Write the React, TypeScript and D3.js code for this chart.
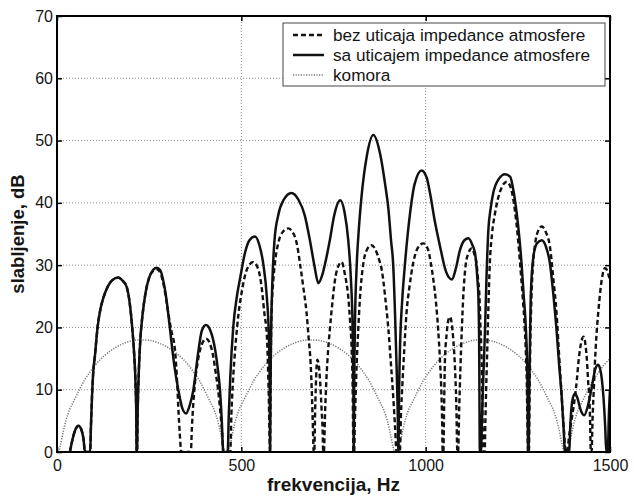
import * as d3 from 'd3';
import { useRef, useEffect } from 'react';

// frequency (Hz), attenuation (dB) pairs
const saUticajem: [number, number][] = [
  [35, 0], [42, 2], [50, 3.6], [58, 4.2], [66, 3.6], [72, 2], [76, 0],
  [90, 0], [92, 4], [95, 9], [98, 12.5], [103, 15.5], [110, 20], [118, 23], [126, 24.8], [138, 26.6], [150, 27.6], [166, 28], [178, 27.5], [189, 26.5], [197, 24], [204, 20], [209, 16], [213, 11], [215, 6], [216, 0],
  [217, 0], [219, 7], [222, 13], [226, 18], [232, 22], [240, 25.5], [250, 28], [260, 29.2], [270, 29.6], [280, 29.2], [290, 27], [298, 24], [306, 20], [318, 14], [329, 10], [340, 7], [350, 6.2], [360, 7.5], [370, 10], [383, 16], [393, 19.5], [404, 20.4], [416, 19.5], [429, 16.4], [437, 13], [442, 10], [447, 5], [451, 0],
  [463, 0], [466, 6], [470, 12], [478, 20], [488, 25], [497, 28], [510, 32], [522, 34], [537, 34.6], [550, 33], [560, 30], [569, 25], [575, 18], [577, 10], [578, 0],
  [579, 10], [581, 20], [584, 27], [590, 34], [600, 38], [615, 40.5], [636, 41.6], [655, 40.5], [672, 38], [686, 34], [698, 30], [709, 27.1], [720, 28.5], [730, 31], [740, 34], [752, 38], [768, 40.4], [780, 38.5], [790, 34], [797, 28], [802, 19.6], [804, 10], [805, 0],
  [806, 10], [808, 20], [813, 30], [819, 36], [826, 41], [840, 47.4], [858, 50.9], [876, 48], [890, 43], [899, 39], [906, 34], [912, 30], [917, 22], [921, 14], [924, 7], [926, 0],
  [928, 10], [931, 18], [936, 24], [944, 30.3], [957, 38], [970, 43], [989, 45.2], [1003, 44], [1012, 41.5], [1025, 37], [1039, 33], [1055, 29], [1071, 27.7], [1082, 29.5], [1093, 32.4], [1105, 34], [1116, 34.3], [1127, 33.2], [1134, 31.9], [1140, 28], [1143, 24.9], [1145, 18], [1147, 0],
  [1150, 0], [1153, 6], [1157, 13], [1161, 19.6], [1165, 28], [1170, 35.6], [1176, 39], [1183, 41.5], [1198, 43.8], [1215, 44.6], [1229, 44.2], [1238, 42], [1247, 38.3], [1254, 34.5], [1260, 30.3], [1266, 25], [1272, 19.6], [1276, 12], [1278, 0],
  [1279, 0], [1281, 10], [1283, 18], [1285, 24.9], [1292, 31.3], [1302, 33.5], [1315, 34], [1326, 33], [1337, 30.3], [1346, 25.5], [1355, 19.6], [1362, 14], [1369, 8.9], [1374, 4], [1378, 0],
  [1389, 0], [1393, 5], [1398, 8.3], [1405, 9.4], [1412, 8.6], [1420, 6.8], [1430, 5.9], [1440, 7.4], [1450, 10.2], [1460, 13.3], [1468, 14], [1476, 12.5], [1482, 9], [1487, 4], [1490, 0],
  [1494, 0], [1497, 6], [1500, 10],
];

const bezUticaja: [number, number][] = [
  [35, 0], [42, 2], [50, 3.6], [58, 4.2], [66, 3.6], [72, 2], [76, 0],
  [90, 0], [92, 4], [95, 9], [98, 12.5], [103, 15.5], [110, 20], [118, 23], [126, 24.8], [138, 26.6], [150, 27.6], [166, 28], [178, 27.5], [189, 26.5], [197, 24], [204, 20], [209, 16], [213, 11], [215, 6], [216, 0],
  [217, 0], [219, 7], [222, 13], [226, 18], [232, 22], [240, 25.5], [250, 28], [260, 29], [272, 29.3], [282, 28.5], [292, 26], [300, 23], [310, 19.5], [320, 16.4], [326, 11], [330, 6], [333, 3], [337, 0],
  [363, 0], [366, 4], [370, 8], [374, 11], [381, 14.2], [388, 16.4], [396, 17.7], [404, 18.2], [414, 17.5], [424, 15.3], [431, 12.5], [437, 10], [443, 6.5], [448, 3], [451, 0],
  [470, 0], [473, 6], [477, 11], [484, 17], [492, 22], [502, 26], [515, 29.3], [532, 30.5], [545, 29.5], [555, 26.5], [563, 22], [569, 19], [574, 10], [578, 0],
  [579, 8], [580, 15], [582, 22.3], [586, 27], [591, 30.3], [600, 33.5], [612, 35.3], [627, 35.9], [642, 35], [652, 33], [659, 30.3], [668, 26.5], [677, 22.3], [683, 18], [688, 14.2], [691, 10], [693, 6.2], [695, 2], [696, 0],
  [698, 0], [700, 6], [702, 10.5], [706, 14.8], [710, 14], [714, 11], [718, 6.5], [721, 2.5], [722, 0],
  [724, 0], [727, 6], [731, 12], [735, 16], [740, 19.6], [747, 24], [754, 27.6], [762, 29.7], [772, 30.5], [781, 28.5], [790, 24.9], [795, 21], [799, 16.9], [802, 10], [804, 0],
  [806, 0], [808, 5], [810, 9], [813, 14.2], [817, 19.5], [822, 24.9], [831, 30.3], [841, 32.5], [853, 33.2], [866, 32.2], [874, 30.8], [881, 29.2], [890, 25], [899, 19.6], [906, 14], [912, 8.9], [917, 4], [921, 0],
  [930, 0], [933, 6], [937, 11], [942, 16.5], [948, 22.3], [956, 26.5], [966, 30.3], [979, 32.8], [994, 33.5], [1007, 32.4], [1014, 30.3], [1021, 27.6], [1028, 24], [1034, 19.6], [1039, 14.5], [1043, 8.9], [1045, 4], [1046, 0],
  [1048, 0], [1050, 7], [1052, 14.2], [1057, 19], [1062, 21.3], [1066, 21.7], [1071, 20.5], [1075, 18], [1079, 14.2], [1083, 8], [1086, 0],
  [1088, 0], [1091, 7], [1094, 13], [1098, 19.6], [1102, 25], [1107, 29.2], [1115, 31.8], [1125, 32.7], [1132, 31.8], [1138, 30.3], [1142, 27.8], [1146, 24.9], [1149, 19.5], [1152, 14.2], [1154, 7], [1156, 0],
  [1160, 0], [1162, 5], [1164, 10], [1166, 14.2], [1170, 23], [1174, 30.3], [1180, 35], [1188, 38.3], [1203, 42], [1220, 43.4], [1232, 42.2], [1242, 38.8], [1250, 34.5], [1256, 30.3], [1263, 25], [1269, 19.6], [1274, 12], [1278, 0],
  [1280, 0], [1282, 10], [1284, 18], [1287, 24.9], [1291, 30], [1296, 33], [1305, 35.5], [1315, 36.2], [1326, 35.3], [1337, 33], [1346, 28], [1355, 22.3], [1362, 15.5], [1369, 8.9], [1375, 3.5], [1380, 0],
  [1383, 0], [1390, 3], [1398, 6], [1405, 8.9], [1410, 11.5], [1414, 14.2], [1420, 17], [1428, 18.5], [1434, 17], [1438, 14.2], [1441, 11], [1444, 8.9], [1446, 5], [1448, 0],
  [1450, 0], [1453, 6], [1456, 10], [1459, 14.2], [1463, 18.5], [1468, 22.3], [1474, 26], [1480, 28.5], [1486, 29.5], [1492, 29.2], [1497, 28.2], [1500, 27.6],
];

const komora: [number, number][] = [
  [4, 0], [9, 1], [16, 3], [24, 5], [34, 6.8], [44, 8], [59, 9.8], [74, 11.5], [89, 12.8], [104, 14], [129, 15.5], [154, 16.6], [184, 17.5], [207, 17.9], [230, 18],
  [253, 17.9], [276, 17.5], [306, 16.6], [331, 15.5], [356, 14], [371, 12.8], [386, 11.5], [401, 9.8], [416, 8], [426, 6.8], [436, 5], [444, 3], [451, 1], [456, 0],
  [464, 0], [469, 1], [476, 3], [484, 5], [494, 6.8], [504, 8], [519, 9.8], [534, 11.5], [549, 12.8], [564, 14], [589, 15.5], [614, 16.6], [644, 17.5], [667, 17.9], [690, 18],
  [713, 17.9], [736, 17.5], [766, 16.6], [791, 15.5], [816, 14], [831, 12.8], [846, 11.5], [861, 9.8], [876, 8], [886, 6.8], [896, 5], [904, 3], [911, 1], [916, 0],
  [924, 0], [929, 1], [936, 3], [944, 5], [954, 6.8], [964, 8], [979, 9.8], [994, 11.5], [1009, 12.8], [1024, 14], [1049, 15.5], [1074, 16.6], [1104, 17.5], [1127, 17.9], [1150, 18],
  [1173, 17.9], [1196, 17.5], [1226, 16.6], [1251, 15.5], [1276, 14], [1291, 12.8], [1306, 11.5], [1321, 9.8], [1336, 8], [1346, 6.8], [1356, 5], [1364, 3], [1371, 1], [1376, 0],
  [1384, 0], [1389, 1], [1396, 3], [1404, 5], [1414, 6.8], [1424, 8], [1439, 9.8], [1454, 11.5], [1469, 12.8], [1484, 14], [1500, 15],
];

const xTicks = [0, 500, 1000, 1500];
const yTicks = [0, 10, 20, 30, 40, 50, 60, 70];
const legendLabels = ['bez uticaja impedance atmosfere', 'sa uticajem impedance atmosfere', 'komora'];

const FONT = '"Liberation Sans", Arial, Helvetica, sans-serif';
const INK = '#151515';

function AttenuationChart({ width = 634, height = 496 }) {
  const svgRef = useRef<SVGSVGElement>(null);

  useEffect(() => {
    const svg = d3.select(svgRef.current).attr('width', width).attr('height', height);
    svg.selectAll('*').remove();

    const left = 57, right = 610, top = 16, bottom = 452;

    const xScale = d3.scaleLinear().domain([0, 1500]).range([left, right]);
    const yScale = d3.scaleLinear().domain([0, 70]).range([bottom, top]);

    svg.append('defs').append('clipPath').attr('id', 'plot-clip')
      .append('rect').attr('x', left).attr('y', top).attr('width', right - left).attr('height', bottom - top);

    // Grid
    const grid = svg.append('g').attr('stroke', '#8c8c8c').attr('stroke-width', 1).attr('stroke-dasharray', '1,2');
    grid.selectAll('line.h').data(yTicks.slice(1, -1)).enter().append('line')
      .attr('x1', left).attr('x2', right)
      .attr('y1', d => yScale(d)).attr('y2', d => yScale(d));
    grid.selectAll('line.v').data(xTicks.slice(1, -1)).enter().append('line')
      .attr('y1', top).attr('y2', bottom)
      .attr('x1', d => xScale(d)).attr('x2', d => xScale(d));

    const line = d3.line<[number, number]>()
      .x(d => xScale(d[0]))
      .y(d => yScale(d[1]))
      .curve(d3.curveMonotoneX);

    const plot = svg.append('g').attr('clip-path', 'url(#plot-clip)').attr('fill', 'none');

    plot.append('path').attr('d', line(komora))
      .attr('stroke', '#777').attr('stroke-width', 1.5).attr('stroke-dasharray', '1.2,1.4');
    plot.append('path').attr('d', line(bezUticaja))
      .attr('stroke', '#111').attr('stroke-width', 2.4).attr('stroke-dasharray', '5,3');
    plot.append('path').attr('d', line(saUticajem))
      .attr('stroke', '#111').attr('stroke-width', 2.5);

    // Axes (ticks inward, MATLAB style)
    const axisStyle = (g: any) => {
      g.selectAll('.domain').remove();
      g.selectAll('line').attr('stroke', '#000').attr('stroke-width', 1.5);
      g.selectAll('text').attr('font-family', FONT).attr('font-size', 16).attr('fill', INK);
    };

    svg.append('g').attr('transform', `translate(0,${bottom})`)
      .call(d3.axisBottom(xScale).tickValues(xTicks).tickSizeInner(-5).tickSizeOuter(0).tickPadding(8).tickFormat(d => String(d)))
      .call(axisStyle);
    svg.append('g').attr('transform', `translate(0,${top})`)
      .call(d3.axisTop(xScale).tickValues(xTicks).tickSizeInner(-5).tickSizeOuter(0).tickFormat(() => ''))
      .call(axisStyle);
    svg.append('g').attr('transform', `translate(${left},0)`)
      .call(d3.axisLeft(yScale).tickValues(yTicks).tickSizeInner(-5).tickSizeOuter(0).tickPadding(4).tickFormat(d => String(d)))
      .call(axisStyle);
    svg.append('g').attr('transform', `translate(${right},0)`)
      .call(d3.axisRight(yScale).tickValues(yTicks).tickSizeInner(-5).tickSizeOuter(0).tickFormat(() => ''))
      .call(axisStyle);

    svg.append('rect')
      .attr('x', left).attr('y', top).attr('width', right - left).attr('height', bottom - top)
      .attr('fill', 'none').attr('stroke', '#000').attr('stroke-width', 2);

    // Axis titles
    svg.append('text')
      .attr('x', (left + right) / 2).attr('y', 491)
      .attr('text-anchor', 'middle')
      .attr('font-family', FONT).attr('font-size', 19).attr('font-weight', 'bold').attr('fill', INK)
      .text('frekvencija, Hz');
    svg.append('text')
      .attr('transform', `translate(24,${(top + bottom) / 2}) rotate(-90)`)
      .attr('text-anchor', 'middle')
      .attr('font-family', FONT).attr('font-size', 18.5).attr('font-weight', 'bold').attr('fill', INK)
      .text('slabljenje, dB');

    // Legend
    const legend = svg.append('g');
    legend.append('rect')
      .attr('x', 283).attr('y', 23).attr('width', 322).attr('height', 63)
      .attr('fill', '#fff').attr('stroke', '#444').attr('stroke-width', 1);
    const legendStyles = [
      { stroke: '#111', width: 2.4, dash: '5,3' },
      { stroke: '#111', width: 2.5, dash: null },
      { stroke: '#777', width: 1.5, dash: '1.2,1.4' },
    ];
    legendLabels.forEach((label, i) => {
      const cy = 35 + i * 20;
      const s = legendStyles[i];
      const l = legend.append('line')
        .attr('x1', 293).attr('x2', 324).attr('y1', cy).attr('y2', cy)
        .attr('stroke', s.stroke).attr('stroke-width', s.width);
      if (s.dash) l.attr('stroke-dasharray', s.dash);
      legend.append('text')
        .attr('x', 333).attr('y', cy).attr('dy', '0.35em')
        .attr('font-family', FONT).attr('font-size', 17.2).attr('fill', INK)
        .text(label);
    });
  }, [width, height]);

  return <svg ref={svgRef} style={{ position: 'absolute', left: 0, top: 0 }}></svg>;
}

export default function App() {
  return <AttenuationChart />;
}
